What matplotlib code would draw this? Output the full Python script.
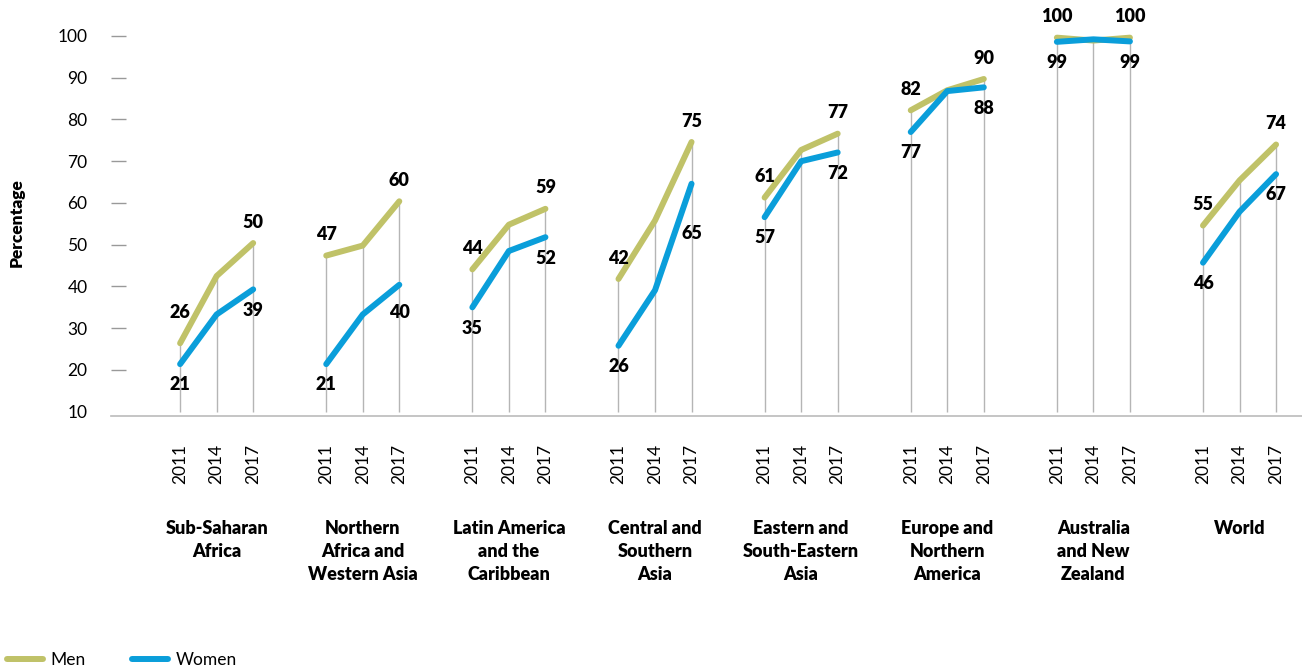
import numpy as np
import matplotlib.pyplot as plt

plt.rcParams['font.family'] = ['Lato', 'DejaVu Sans']

regions = ["Sub-Saharan\nAfrica", "Northern\nAfrica and\nWestern Asia", "Latin America\nand the\nCaribbean",
           "Central and\nSouthern\nAsia", "Eastern and\nSouth-Eastern\nAsia", "Europe and\nNorthern\nAmerica",
           "Australia\nand New\nZealand", "World"]
years = ["2011", "2014", "2017"]

men = [[26.4, 42.5, 50.4],
       [47.4, 49.8, 60.4],
       [44.1, 54.8, 58.6],
       [41.8, 55.8, 74.6],
       [61.3, 72.7, 76.6],
       [82.2, 87.0, 89.7],
       [99.6, 98.9, 99.6],
       [54.6, 65.4, 74.0]]
women = [[21.4, 33.3, 39.3],
         [21.4, 33.3, 40.4],
         [35.0, 48.5, 51.8],
         [25.8, 39.1, 64.6],
         [56.6, 70.0, 72.1],
         [77.0, 86.8, 87.7],
         [98.6, 99.2, 98.7],
         [45.7, 57.9, 66.9]]
yticks = [10, 20, 30, 40, 50, 60, 70, 80, 90, 100]

men_color = "#C0C268"
women_color = "#0A9EDA"

# labels that sit further from their point to keep clear of the lines
label_shift = {("m", 0, 0): 22, ("w", 3, 2): -36, ("w", 1, 2): -20}

fig = plt.figure(figsize=(13.02, 6.71), dpi=100)
ax = fig.add_axes([0.0853, 0.3802, 0.9147, 0.5724])

xpos_all = []
for g in range(len(regions)):
    xs = np.arange(3) + g * 4
    xpos_all.extend(xs)
    m = np.array(men[g])
    w = np.array(women[g])
    ax.vlines(xs, 10, np.maximum(m, w), color="#b5b5b5", lw=1, zorder=1)
    ax.plot(xs, m, color=men_color, lw=4.3, solid_capstyle="round", zorder=3,
            label="Men" if g == 0 else None)
    ax.plot(xs, w, color=women_color, lw=4.3, solid_capstyle="round", zorder=4,
            label="Women" if g == 0 else None)
    for j in [0, 2]:
        ax.annotate(f"{m[j]:.0f}", (xs[j], m[j]), xytext=(0, label_shift.get(("m", g, j), 15)),
                    textcoords="offset points", ha="center", va="center",
                    fontsize=13, fontweight="heavy")
        ax.annotate(f"{w[j]:.0f}", (xs[j], w[j]), xytext=(0, label_shift.get(("w", g, j), -15)),
                    textcoords="offset points", ha="center", va="center",
                    fontsize=13, fontweight="heavy")
    ax.text(g * 4 + 1, -0.272, regions[g], transform=ax.get_xaxis_transform(),
            ha="center", va="top", fontsize=13, fontweight="heavy", linespacing=1.42)

ax.set_xlim(-1.89, 30.71)
ax.set_ylim(9.0, 101)
ax.set_xticks(xpos_all)
ax.set_xticklabels(years * len(regions), rotation=90, fontsize=12.5)
ax.tick_params(axis="x", length=0, pad=20)
ax.set_yticks(yticks)
ax.set_yticklabels([str(t) for t in yticks], fontsize=12.5)
ax.tick_params(axis="y", length=0, pad=17)
# short gray marks next to the y labels
ax.hlines(yticks[1:], 0, 0.0126, transform=ax.get_yaxis_transform(), color="#999999", lw=1)

for s in ["top", "right", "left"]:
    ax.spines[s].set_visible(False)
ax.spines["bottom"].set_color("#bbbbbb")
ax.spines["bottom"].set_linewidth(1.2)

fig.text(17 / 1302, 1 - 223 / 671, "Percentage", rotation=90, ha="center", va="center",
         fontsize=12.5, fontweight="heavy")

fig.legend(loc="center left", bbox_to_anchor=(0.005, 0.016), ncol=2, frameon=False,
           fontsize=12.5, handlelength=2.1, handletextpad=0.4, columnspacing=2.7,
           borderpad=0, borderaxespad=0)

fig.savefig("out.png", dpi=100)
